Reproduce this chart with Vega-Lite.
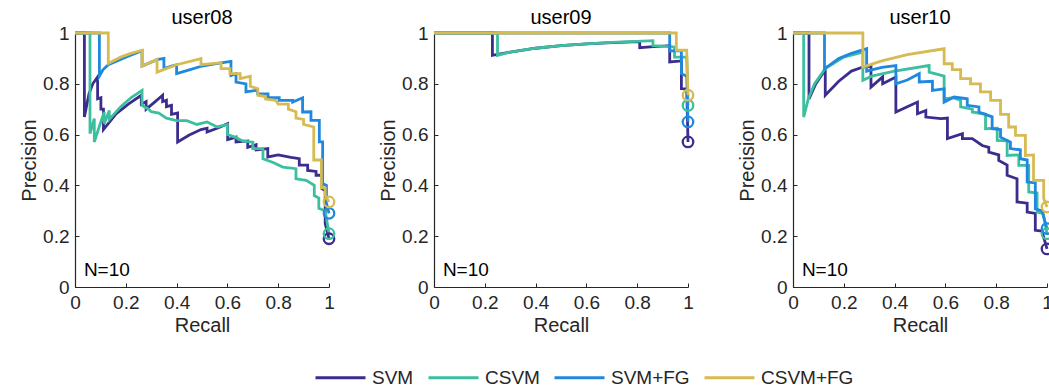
{
"$schema":"https://vega.github.io/schema/vega-lite/v6.json",
"padding":{"left":19,"top":8,"right":0,"bottom":0},
"background":"white",
"data":{"values":[
{"u":"user08","s":"SVM","r":0,"p":1},{"u":"user08","s":"SVM","r":0.037,"p":1},{"u":"user08","s":"SVM","r":0.037,"p":0.669},{"u":"user08","s":"SVM","r":0.055,"p":0.76},{"u":"user08","s":"SVM","r":0.07,"p":0.8},{"u":"user08","s":"SVM","r":0.089,"p":0.827},{"u":"user08","s":"SVM","r":0.089,"p":0.741},{"u":"user08","s":"SVM","r":0.102,"p":0.745},{"u":"user08","s":"SVM","r":0.102,"p":0.7},{"u":"user08","s":"SVM","r":0.112,"p":0.7},{"u":"user08","s":"SVM","r":0.112,"p":0.62},{"u":"user08","s":"SVM","r":0.16,"p":0.68},{"u":"user08","s":"SVM","r":0.21,"p":0.72},{"u":"user08","s":"SVM","r":0.261,"p":0.755},{"u":"user08","s":"SVM","r":0.261,"p":0.72},{"u":"user08","s":"SVM","r":0.28,"p":0.73},{"u":"user08","s":"SVM","r":0.28,"p":0.7},{"u":"user08","s":"SVM","r":0.31,"p":0.725},{"u":"user08","s":"SVM","r":0.345,"p":0.755},{"u":"user08","s":"SVM","r":0.345,"p":0.73},{"u":"user08","s":"SVM","r":0.36,"p":0.735},{"u":"user08","s":"SVM","r":0.36,"p":0.71},{"u":"user08","s":"SVM","r":0.38,"p":0.715},{"u":"user08","s":"SVM","r":0.38,"p":0.68},{"u":"user08","s":"SVM","r":0.404,"p":0.685},{"u":"user08","s":"SVM","r":0.404,"p":0.571},{"u":"user08","s":"SVM","r":0.45,"p":0.598},{"u":"user08","s":"SVM","r":0.496,"p":0.62},{"u":"user08","s":"SVM","r":0.52,"p":0.625},{"u":"user08","s":"SVM","r":0.52,"p":0.61},{"u":"user08","s":"SVM","r":0.56,"p":0.625},{"u":"user08","s":"SVM","r":0.601,"p":0.643},{"u":"user08","s":"SVM","r":0.601,"p":0.58},{"u":"user08","s":"SVM","r":0.634,"p":0.59},{"u":"user08","s":"SVM","r":0.634,"p":0.571},{"u":"user08","s":"SVM","r":0.68,"p":0.575},{"u":"user08","s":"SVM","r":0.68,"p":0.55},{"u":"user08","s":"SVM","r":0.713,"p":0.56},{"u":"user08","s":"SVM","r":0.713,"p":0.54},{"u":"user08","s":"SVM","r":0.759,"p":0.545},{"u":"user08","s":"SVM","r":0.759,"p":0.512},{"u":"user08","s":"SVM","r":0.8,"p":0.52},{"u":"user08","s":"SVM","r":0.85,"p":0.51},{"u":"user08","s":"SVM","r":0.883,"p":0.505},{"u":"user08","s":"SVM","r":0.883,"p":0.48},{"u":"user08","s":"SVM","r":0.916,"p":0.48},{"u":"user08","s":"SVM","r":0.916,"p":0.459},{"u":"user08","s":"SVM","r":0.949,"p":0.455},{"u":"user08","s":"SVM","r":0.949,"p":0.44},{"u":"user08","s":"SVM","r":0.972,"p":0.44},{"u":"user08","s":"SVM","r":0.972,"p":0.387},{"u":"user08","s":"SVM","r":0.985,"p":0.38},{"u":"user08","s":"SVM","r":0.985,"p":0.25},{"u":"user08","s":"SVM","r":1,"p":0.19},
{"u":"user08","s":"CSVM","r":0,"p":1},{"u":"user08","s":"CSVM","r":0.059,"p":1},{"u":"user08","s":"CSVM","r":0.059,"p":0.604},{"u":"user08","s":"CSVM","r":0.076,"p":0.663},{"u":"user08","s":"CSVM","r":0.076,"p":0.571},{"u":"user08","s":"CSVM","r":0.095,"p":0.63},{"u":"user08","s":"CSVM","r":0.115,"p":0.689},{"u":"user08","s":"CSVM","r":0.115,"p":0.643},{"u":"user08","s":"CSVM","r":0.135,"p":0.695},{"u":"user08","s":"CSVM","r":0.135,"p":0.66},{"u":"user08","s":"CSVM","r":0.18,"p":0.71},{"u":"user08","s":"CSVM","r":0.22,"p":0.745},{"u":"user08","s":"CSVM","r":0.264,"p":0.774},{"u":"user08","s":"CSVM","r":0.264,"p":0.715},{"u":"user08","s":"CSVM","r":0.29,"p":0.7},{"u":"user08","s":"CSVM","r":0.3,"p":0.69},{"u":"user08","s":"CSVM","r":0.33,"p":0.685},{"u":"user08","s":"CSVM","r":0.36,"p":0.665},{"u":"user08","s":"CSVM","r":0.4,"p":0.655},{"u":"user08","s":"CSVM","r":0.44,"p":0.655},{"u":"user08","s":"CSVM","r":0.48,"p":0.64},{"u":"user08","s":"CSVM","r":0.52,"p":0.65},{"u":"user08","s":"CSVM","r":0.56,"p":0.63},{"u":"user08","s":"CSVM","r":0.6,"p":0.64},{"u":"user08","s":"CSVM","r":0.6,"p":0.6},{"u":"user08","s":"CSVM","r":0.63,"p":0.59},{"u":"user08","s":"CSVM","r":0.66,"p":0.575},{"u":"user08","s":"CSVM","r":0.7,"p":0.57},{"u":"user08","s":"CSVM","r":0.7,"p":0.545},{"u":"user08","s":"CSVM","r":0.74,"p":0.545},{"u":"user08","s":"CSVM","r":0.74,"p":0.505},{"u":"user08","s":"CSVM","r":0.78,"p":0.49},{"u":"user08","s":"CSVM","r":0.818,"p":0.472},{"u":"user08","s":"CSVM","r":0.87,"p":0.466},{"u":"user08","s":"CSVM","r":0.87,"p":0.426},{"u":"user08","s":"CSVM","r":0.91,"p":0.42},{"u":"user08","s":"CSVM","r":0.942,"p":0.4},{"u":"user08","s":"CSVM","r":0.942,"p":0.36},{"u":"user08","s":"CSVM","r":0.96,"p":0.35},{"u":"user08","s":"CSVM","r":0.96,"p":0.31},{"u":"user08","s":"CSVM","r":0.985,"p":0.3},{"u":"user08","s":"CSVM","r":1,"p":0.21},
{"u":"user08","s":"SVM+FG","r":0,"p":1},{"u":"user08","s":"SVM+FG","r":0.096,"p":1},{"u":"user08","s":"SVM+FG","r":0.096,"p":0.83},{"u":"user08","s":"SVM+FG","r":0.11,"p":0.855},{"u":"user08","s":"SVM+FG","r":0.131,"p":0.875},{"u":"user08","s":"SVM+FG","r":0.2,"p":0.905},{"u":"user08","s":"SVM+FG","r":0.264,"p":0.93},{"u":"user08","s":"SVM+FG","r":0.264,"p":0.87},{"u":"user08","s":"SVM+FG","r":0.323,"p":0.895},{"u":"user08","s":"SVM+FG","r":0.35,"p":0.9},{"u":"user08","s":"SVM+FG","r":0.35,"p":0.86},{"u":"user08","s":"SVM+FG","r":0.38,"p":0.87},{"u":"user08","s":"SVM+FG","r":0.4,"p":0.875},{"u":"user08","s":"SVM+FG","r":0.4,"p":0.84},{"u":"user08","s":"SVM+FG","r":0.45,"p":0.855},{"u":"user08","s":"SVM+FG","r":0.5,"p":0.87},{"u":"user08","s":"SVM+FG","r":0.55,"p":0.878},{"u":"user08","s":"SVM+FG","r":0.614,"p":0.888},{"u":"user08","s":"SVM+FG","r":0.614,"p":0.833},{"u":"user08","s":"SVM+FG","r":0.634,"p":0.84},{"u":"user08","s":"SVM+FG","r":0.634,"p":0.807},{"u":"user08","s":"SVM+FG","r":0.673,"p":0.8},{"u":"user08","s":"SVM+FG","r":0.673,"p":0.768},{"u":"user08","s":"SVM+FG","r":0.719,"p":0.775},{"u":"user08","s":"SVM+FG","r":0.719,"p":0.761},{"u":"user08","s":"SVM+FG","r":0.76,"p":0.76},{"u":"user08","s":"SVM+FG","r":0.76,"p":0.745},{"u":"user08","s":"SVM+FG","r":0.804,"p":0.745},{"u":"user08","s":"SVM+FG","r":0.804,"p":0.735},{"u":"user08","s":"SVM+FG","r":0.857,"p":0.735},{"u":"user08","s":"SVM+FG","r":0.857,"p":0.728},{"u":"user08","s":"SVM+FG","r":0.896,"p":0.745},{"u":"user08","s":"SVM+FG","r":0.896,"p":0.689},{"u":"user08","s":"SVM+FG","r":0.929,"p":0.69},{"u":"user08","s":"SVM+FG","r":0.929,"p":0.656},{"u":"user08","s":"SVM+FG","r":0.962,"p":0.656},{"u":"user08","s":"SVM+FG","r":0.962,"p":0.571},{"u":"user08","s":"SVM+FG","r":0.975,"p":0.571},{"u":"user08","s":"SVM+FG","r":0.975,"p":0.407},{"u":"user08","s":"SVM+FG","r":0.99,"p":0.4},{"u":"user08","s":"SVM+FG","r":0.99,"p":0.33},{"u":"user08","s":"SVM+FG","r":1,"p":0.29},
{"u":"user08","s":"CSVM+FG","r":0,"p":1},{"u":"user08","s":"CSVM+FG","r":0.131,"p":1},{"u":"user08","s":"CSVM+FG","r":0.131,"p":0.88},{"u":"user08","s":"CSVM+FG","r":0.18,"p":0.905},{"u":"user08","s":"CSVM+FG","r":0.22,"p":0.92},{"u":"user08","s":"CSVM+FG","r":0.264,"p":0.932},{"u":"user08","s":"CSVM+FG","r":0.264,"p":0.87},{"u":"user08","s":"CSVM+FG","r":0.323,"p":0.896},{"u":"user08","s":"CSVM+FG","r":0.323,"p":0.846},{"u":"user08","s":"CSVM+FG","r":0.4,"p":0.875},{"u":"user08","s":"CSVM+FG","r":0.496,"p":0.899},{"u":"user08","s":"CSVM+FG","r":0.496,"p":0.875},{"u":"user08","s":"CSVM+FG","r":0.575,"p":0.883},{"u":"user08","s":"CSVM+FG","r":0.575,"p":0.86},{"u":"user08","s":"CSVM+FG","r":0.61,"p":0.86},{"u":"user08","s":"CSVM+FG","r":0.61,"p":0.84},{"u":"user08","s":"CSVM+FG","r":0.65,"p":0.84},{"u":"user08","s":"CSVM+FG","r":0.65,"p":0.82},{"u":"user08","s":"CSVM+FG","r":0.69,"p":0.83},{"u":"user08","s":"CSVM+FG","r":0.69,"p":0.79},{"u":"user08","s":"CSVM+FG","r":0.72,"p":0.78},{"u":"user08","s":"CSVM+FG","r":0.72,"p":0.755},{"u":"user08","s":"CSVM+FG","r":0.75,"p":0.75},{"u":"user08","s":"CSVM+FG","r":0.75,"p":0.74},{"u":"user08","s":"CSVM+FG","r":0.79,"p":0.735},{"u":"user08","s":"CSVM+FG","r":0.8,"p":0.72},{"u":"user08","s":"CSVM+FG","r":0.84,"p":0.72},{"u":"user08","s":"CSVM+FG","r":0.84,"p":0.7},{"u":"user08","s":"CSVM+FG","r":0.87,"p":0.69},{"u":"user08","s":"CSVM+FG","r":0.87,"p":0.665},{"u":"user08","s":"CSVM+FG","r":0.9,"p":0.66},{"u":"user08","s":"CSVM+FG","r":0.9,"p":0.64},{"u":"user08","s":"CSVM+FG","r":0.94,"p":0.63},{"u":"user08","s":"CSVM+FG","r":0.94,"p":0.5},{"u":"user08","s":"CSVM+FG","r":0.97,"p":0.5},{"u":"user08","s":"CSVM+FG","r":0.97,"p":0.39},{"u":"user08","s":"CSVM+FG","r":0.985,"p":0.39},{"u":"user08","s":"CSVM+FG","r":0.985,"p":0.36},{"u":"user08","s":"CSVM+FG","r":1,"p":0.335},
{"u":"user09","s":"SVM","r":0,"p":1},{"u":"user09","s":"SVM","r":0.23,"p":1},{"u":"user09","s":"SVM","r":0.23,"p":0.912},{"u":"user09","s":"SVM","r":0.3,"p":0.925},{"u":"user09","s":"SVM","r":0.4,"p":0.94},{"u":"user09","s":"SVM","r":0.5,"p":0.95},{"u":"user09","s":"SVM","r":0.6,"p":0.957},{"u":"user09","s":"SVM","r":0.7,"p":0.962},{"u":"user09","s":"SVM","r":0.81,"p":0.966},{"u":"user09","s":"SVM","r":0.81,"p":0.942},{"u":"user09","s":"SVM","r":0.85,"p":0.945},{"u":"user09","s":"SVM","r":0.928,"p":0.95},{"u":"user09","s":"SVM","r":0.928,"p":0.886},{"u":"user09","s":"SVM","r":0.974,"p":0.89},{"u":"user09","s":"SVM","r":0.974,"p":0.781},{"u":"user09","s":"SVM","r":0.995,"p":0.78},{"u":"user09","s":"SVM","r":1,"p":0.571},
{"u":"user09","s":"CSVM","r":0,"p":1},{"u":"user09","s":"CSVM","r":0.25,"p":1},{"u":"user09","s":"CSVM","r":0.25,"p":0.912},{"u":"user09","s":"CSVM","r":0.3,"p":0.925},{"u":"user09","s":"CSVM","r":0.4,"p":0.94},{"u":"user09","s":"CSVM","r":0.5,"p":0.95},{"u":"user09","s":"CSVM","r":0.6,"p":0.957},{"u":"user09","s":"CSVM","r":0.7,"p":0.963},{"u":"user09","s":"CSVM","r":0.862,"p":0.97},{"u":"user09","s":"CSVM","r":0.862,"p":0.95},{"u":"user09","s":"CSVM","r":0.947,"p":0.945},{"u":"user09","s":"CSVM","r":0.947,"p":0.905},{"u":"user09","s":"CSVM","r":0.995,"p":0.905},{"u":"user09","s":"CSVM","r":1,"p":0.715},
{"u":"user09","s":"SVM+FG","r":0,"p":1},{"u":"user09","s":"SVM+FG","r":0.928,"p":1},{"u":"user09","s":"SVM+FG","r":0.928,"p":0.93},{"u":"user09","s":"SVM+FG","r":0.974,"p":0.93},{"u":"user09","s":"SVM+FG","r":0.974,"p":0.84},{"u":"user09","s":"SVM+FG","r":0.995,"p":0.83},{"u":"user09","s":"SVM+FG","r":1,"p":0.65},
{"u":"user09","s":"CSVM+FG","r":0,"p":1},{"u":"user09","s":"CSVM+FG","r":0.954,"p":1},{"u":"user09","s":"CSVM+FG","r":0.954,"p":0.932},{"u":"user09","s":"CSVM+FG","r":0.995,"p":0.932},{"u":"user09","s":"CSVM+FG","r":1,"p":0.755},
{"u":"user10","s":"SVM","r":0,"p":1},{"u":"user10","s":"SVM","r":0.063,"p":1},{"u":"user10","s":"SVM","r":0.063,"p":0.74},{"u":"user10","s":"SVM","r":0.09,"p":0.8},{"u":"user10","s":"SVM","r":0.127,"p":0.855},{"u":"user10","s":"SVM","r":0.127,"p":0.755},{"u":"user10","s":"SVM","r":0.18,"p":0.81},{"u":"user10","s":"SVM","r":0.23,"p":0.85},{"u":"user10","s":"SVM","r":0.275,"p":0.866},{"u":"user10","s":"SVM","r":0.307,"p":0.87},{"u":"user10","s":"SVM","r":0.307,"p":0.787},{"u":"user10","s":"SVM","r":0.353,"p":0.827},{"u":"user10","s":"SVM","r":0.353,"p":0.8},{"u":"user10","s":"SVM","r":0.405,"p":0.827},{"u":"user10","s":"SVM","r":0.405,"p":0.689},{"u":"user10","s":"SVM","r":0.45,"p":0.71},{"u":"user10","s":"SVM","r":0.49,"p":0.728},{"u":"user10","s":"SVM","r":0.49,"p":0.682},{"u":"user10","s":"SVM","r":0.523,"p":0.695},{"u":"user10","s":"SVM","r":0.523,"p":0.669},{"u":"user10","s":"SVM","r":0.582,"p":0.663},{"u":"user10","s":"SVM","r":0.608,"p":0.665},{"u":"user10","s":"SVM","r":0.608,"p":0.584},{"u":"user10","s":"SVM","r":0.667,"p":0.604},{"u":"user10","s":"SVM","r":0.667,"p":0.584},{"u":"user10","s":"SVM","r":0.706,"p":0.584},{"u":"user10","s":"SVM","r":0.745,"p":0.557},{"u":"user10","s":"SVM","r":0.771,"p":0.55},{"u":"user10","s":"SVM","r":0.771,"p":0.531},{"u":"user10","s":"SVM","r":0.81,"p":0.52},{"u":"user10","s":"SVM","r":0.81,"p":0.498},{"u":"user10","s":"SVM","r":0.843,"p":0.48},{"u":"user10","s":"SVM","r":0.843,"p":0.44},{"u":"user10","s":"SVM","r":0.882,"p":0.426},{"u":"user10","s":"SVM","r":0.882,"p":0.335},{"u":"user10","s":"SVM","r":0.922,"p":0.33},{"u":"user10","s":"SVM","r":0.922,"p":0.295},{"u":"user10","s":"SVM","r":0.954,"p":0.29},{"u":"user10","s":"SVM","r":0.954,"p":0.223},{"u":"user10","s":"SVM","r":0.98,"p":0.22},{"u":"user10","s":"SVM","r":1,"p":0.15},
{"u":"user10","s":"CSVM","r":0,"p":1},{"u":"user10","s":"CSVM","r":0.042,"p":1},{"u":"user10","s":"CSVM","r":0.042,"p":0.669},{"u":"user10","s":"CSVM","r":0.06,"p":0.74},{"u":"user10","s":"CSVM","r":0.085,"p":0.8},{"u":"user10","s":"CSVM","r":0.127,"p":0.86},{"u":"user10","s":"CSVM","r":0.2,"p":0.905},{"u":"user10","s":"CSVM","r":0.275,"p":0.925},{"u":"user10","s":"CSVM","r":0.275,"p":0.814},{"u":"user10","s":"CSVM","r":0.31,"p":0.83},{"u":"user10","s":"CSVM","r":0.4,"p":0.85},{"u":"user10","s":"CSVM","r":0.536,"p":0.872},{"u":"user10","s":"CSVM","r":0.536,"p":0.846},{"u":"user10","s":"CSVM","r":0.595,"p":0.83},{"u":"user10","s":"CSVM","r":0.595,"p":0.741},{"u":"user10","s":"CSVM","r":0.63,"p":0.745},{"u":"user10","s":"CSVM","r":0.66,"p":0.735},{"u":"user10","s":"CSVM","r":0.66,"p":0.709},{"u":"user10","s":"CSVM","r":0.706,"p":0.7},{"u":"user10","s":"CSVM","r":0.706,"p":0.689},{"u":"user10","s":"CSVM","r":0.758,"p":0.68},{"u":"user10","s":"CSVM","r":0.758,"p":0.623},{"u":"user10","s":"CSVM","r":0.804,"p":0.625},{"u":"user10","s":"CSVM","r":0.804,"p":0.577},{"u":"user10","s":"CSVM","r":0.843,"p":0.575},{"u":"user10","s":"CSVM","r":0.843,"p":0.518},{"u":"user10","s":"CSVM","r":0.889,"p":0.52},{"u":"user10","s":"CSVM","r":0.889,"p":0.479},{"u":"user10","s":"CSVM","r":0.928,"p":0.479},{"u":"user10","s":"CSVM","r":0.928,"p":0.374},{"u":"user10","s":"CSVM","r":0.961,"p":0.37},{"u":"user10","s":"CSVM","r":0.961,"p":0.295},{"u":"user10","s":"CSVM","r":0.985,"p":0.29},{"u":"user10","s":"CSVM","r":1,"p":0.21},
{"u":"user10","s":"SVM+FG","r":0,"p":1},{"u":"user10","s":"SVM+FG","r":0.124,"p":1},{"u":"user10","s":"SVM+FG","r":0.124,"p":0.859},{"u":"user10","s":"SVM+FG","r":0.18,"p":0.9},{"u":"user10","s":"SVM+FG","r":0.23,"p":0.92},{"u":"user10","s":"SVM+FG","r":0.29,"p":0.938},{"u":"user10","s":"SVM+FG","r":0.29,"p":0.85},{"u":"user10","s":"SVM+FG","r":0.35,"p":0.865},{"u":"user10","s":"SVM+FG","r":0.405,"p":0.872},{"u":"user10","s":"SVM+FG","r":0.405,"p":0.8},{"u":"user10","s":"SVM+FG","r":0.45,"p":0.815},{"u":"user10","s":"SVM+FG","r":0.497,"p":0.84},{"u":"user10","s":"SVM+FG","r":0.497,"p":0.807},{"u":"user10","s":"SVM+FG","r":0.549,"p":0.81},{"u":"user10","s":"SVM+FG","r":0.549,"p":0.774},{"u":"user10","s":"SVM+FG","r":0.595,"p":0.78},{"u":"user10","s":"SVM+FG","r":0.595,"p":0.728},{"u":"user10","s":"SVM+FG","r":0.634,"p":0.748},{"u":"user10","s":"SVM+FG","r":0.686,"p":0.741},{"u":"user10","s":"SVM+FG","r":0.686,"p":0.715},{"u":"user10","s":"SVM+FG","r":0.732,"p":0.709},{"u":"user10","s":"SVM+FG","r":0.732,"p":0.689},{"u":"user10","s":"SVM+FG","r":0.784,"p":0.67},{"u":"user10","s":"SVM+FG","r":0.784,"p":0.623},{"u":"user10","s":"SVM+FG","r":0.817,"p":0.62},{"u":"user10","s":"SVM+FG","r":0.817,"p":0.59},{"u":"user10","s":"SVM+FG","r":0.856,"p":0.57},{"u":"user10","s":"SVM+FG","r":0.856,"p":0.545},{"u":"user10","s":"SVM+FG","r":0.895,"p":0.54},{"u":"user10","s":"SVM+FG","r":0.895,"p":0.505},{"u":"user10","s":"SVM+FG","r":0.922,"p":0.5},{"u":"user10","s":"SVM+FG","r":0.922,"p":0.413},{"u":"user10","s":"SVM+FG","r":0.954,"p":0.41},{"u":"user10","s":"SVM+FG","r":0.954,"p":0.308},{"u":"user10","s":"SVM+FG","r":0.98,"p":0.3},{"u":"user10","s":"SVM+FG","r":1,"p":0.23},
{"u":"user10","s":"CSVM+FG","r":0,"p":1},{"u":"user10","s":"CSVM+FG","r":0.275,"p":1},{"u":"user10","s":"CSVM+FG","r":0.275,"p":0.866},{"u":"user10","s":"CSVM+FG","r":0.35,"p":0.89},{"u":"user10","s":"CSVM+FG","r":0.45,"p":0.915},{"u":"user10","s":"CSVM+FG","r":0.595,"p":0.938},{"u":"user10","s":"CSVM+FG","r":0.595,"p":0.879},{"u":"user10","s":"CSVM+FG","r":0.627,"p":0.879},{"u":"user10","s":"CSVM+FG","r":0.627,"p":0.856},{"u":"user10","s":"CSVM+FG","r":0.66,"p":0.856},{"u":"user10","s":"CSVM+FG","r":0.66,"p":0.82},{"u":"user10","s":"CSVM+FG","r":0.699,"p":0.82},{"u":"user10","s":"CSVM+FG","r":0.699,"p":0.8},{"u":"user10","s":"CSVM+FG","r":0.738,"p":0.8},{"u":"user10","s":"CSVM+FG","r":0.738,"p":0.768},{"u":"user10","s":"CSVM+FG","r":0.778,"p":0.768},{"u":"user10","s":"CSVM+FG","r":0.778,"p":0.735},{"u":"user10","s":"CSVM+FG","r":0.817,"p":0.735},{"u":"user10","s":"CSVM+FG","r":0.817,"p":0.68},{"u":"user10","s":"CSVM+FG","r":0.849,"p":0.68},{"u":"user10","s":"CSVM+FG","r":0.849,"p":0.63},{"u":"user10","s":"CSVM+FG","r":0.876,"p":0.63},{"u":"user10","s":"CSVM+FG","r":0.876,"p":0.597},{"u":"user10","s":"CSVM+FG","r":0.915,"p":0.597},{"u":"user10","s":"CSVM+FG","r":0.915,"p":0.518},{"u":"user10","s":"CSVM+FG","r":0.947,"p":0.52},{"u":"user10","s":"CSVM+FG","r":0.947,"p":0.42},{"u":"user10","s":"CSVM+FG","r":0.987,"p":0.42},{"u":"user10","s":"CSVM+FG","r":0.987,"p":0.348},{"u":"user10","s":"CSVM+FG","r":1,"p":0.315}
]},
"facet":{"column":{"field":"u","type":"nominal","header":{"title":null,"labelFontSize":20,"labelFont":"Liberation Sans","labelColor":"#000","labelPadding":5}}},
"spacing":105,
"bounds":"flush",
"resolve":{"axis":{"y":"independent","x":"independent"}},
"spec":{
"width":254,"height":254,
"layer":[
{"mark":{"type":"line","strokeWidth":2.8,"clip":false},
"encoding":{
"x":{"field":"r","type":"quantitative","scale":{"domain":[0,1]},"axis":{"title":"Recall","values":[0,0.2,0.4,0.6,0.8,1],"format":".1~f"}},
"y":{"field":"p","type":"quantitative","scale":{"domain":[0,1]},"axis":{"title":"Precision","values":[0,0.2,0.4,0.6,0.8,1],"format":".1~f"}},
"color":{"field":"s","type":"nominal","scale":{"domain":["SVM","CSVM","SVM+FG","CSVM+FG"],"range":["#3a2d8e","#3cbf9e","#2088de","#d6ba52"]},
"legend":{"orient":"none","legendX":239,"legendY":318,"direction":"horizontal","title":null,"symbolType":"stroke","symbolSize":2500,"symbolStrokeWidth":3,"labelFontSize":19,"labelFont":"Liberation Sans","labelColor":"#262626","columnPadding":8,"labelOffset":5}},
"order":{"value":null}}},
{"transform":[{"filter":"datum.r == 1"}],
"mark":{"type":"point","shape":"circle","filled":false,"size":110,"strokeWidth":2.3,"opacity":1},
"encoding":{
"x":{"field":"r","type":"quantitative"},
"y":{"field":"p","type":"quantitative"},
"color":{"field":"s","type":"nominal","legend":null}}},
{"transform":[{"aggregate":[{"op":"count","as":"n"}],"groupby":["u"]}],
"mark":{"type":"text","align":"left","baseline":"alphabetic","fontSize":19,"font":"Liberation Sans","color":"#000"},
"encoding":{"x":{"datum":0.035,"type":"quantitative"},"y":{"datum":0.045,"type":"quantitative"},"text":{"value":"N=10"}}}
]},
"config":{
"view":{"stroke":null},
"axis":{"grid":false,"domainColor":"#262626","domainWidth":1.2,"tickColor":"#262626","tickSize":-4,"labelPadding":10,"labelFont":"Liberation Sans","labelFontSize":19,"labelColor":"#262626","labelFlush":false,"labelOverlap":false,"titleFont":"Liberation Sans","titleFontSize":20,"titleColor":"#262626","titleFontWeight":"normal","titlePadding":3}
}
}
